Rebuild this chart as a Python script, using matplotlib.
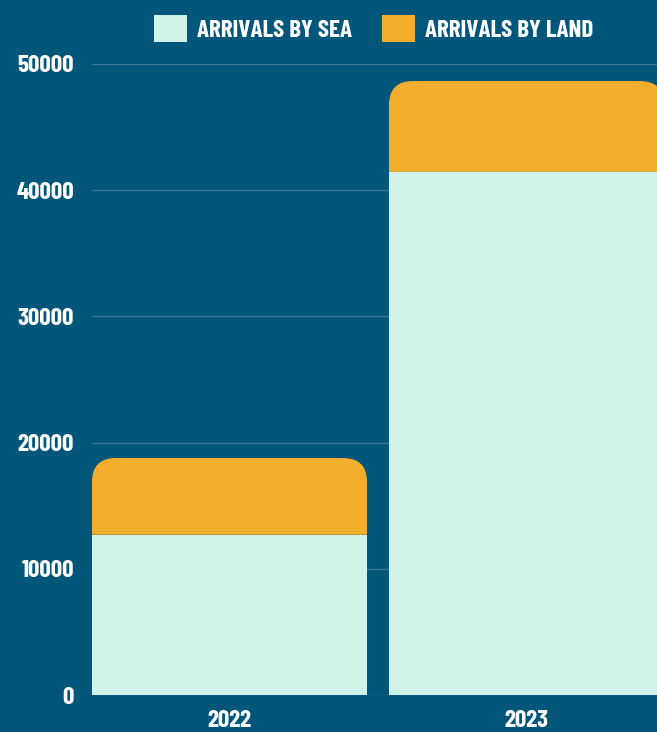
import matplotlib.pyplot as plt
import numpy as np
from matplotlib.patches import Patch, PathPatch
from matplotlib.path import Path

years = ["2022", "2023"]
sea = [12700, 41450]
land = [6080, 7200]
series_names = ["ARRIVALS BY SEA", "ARRIVALS BY LAND"]
y_ticks = [0, 10000, 20000, 30000, 40000, 50000]

BG = "#02567A"
SEA_COLOR = "#D0F3E9"
LAND_COLOR = "#F4AE2E"
GRID_COLOR = "#3B7896"

plt.rcParams["font.family"] = ["Barlow Condensed", "DejaVu Sans"]
plt.rcParams["font.weight"] = "bold"


def rounded_top(ax, patch, rx, ry, color):
    """Replace a bar patch with one that has rounded top corners."""
    x0 = patch.get_x()
    x1 = x0 + patch.get_width()
    y0 = patch.get_y()
    y1 = y0 + patch.get_height()
    verts = [
        (x0, y0), (x1, y0), (x1, y1 - ry),
        (x1, y1), (x1 - rx, y1),
        (x0 + rx, y1),
        (x0, y1), (x0, y1 - ry),
        (x0, y0),
    ]
    codes = [
        Path.MOVETO, Path.LINETO, Path.LINETO,
        Path.CURVE3, Path.CURVE3,
        Path.LINETO,
        Path.CURVE3, Path.CURVE3,
        Path.CLOSEPOLY,
    ]
    patch.remove()
    ax.add_patch(PathPatch(Path(verts, codes), facecolor=color,
                           edgecolor="none", zorder=3, clip_on=False))


fig = plt.figure(figsize=(6.57, 7.32), dpi=100, facecolor=BG)
ax = fig.add_axes([92 / 657, 37 / 732, 572 / 657, 631 / 732])
ax.set_facecolor(BG)

x = np.arange(len(years))
width = 275 / 297

ax.bar(x, sea, width, color=SEA_COLOR, zorder=3, clip_on=False)
land_bars = ax.bar(x, land, width, bottom=sea, color=LAND_COLOR,
                   zorder=3, clip_on=False)

ax.set_xlim(-width / 2, 1 + width / 2)
ax.set_ylim(0, 50000)

rx = 24 / 297
ry = 24 * 50000 / 631
for p in land_bars.patches:
    rounded_top(ax, p, rx, ry, LAND_COLOR)

ax.set_yticks(y_ticks)
ax.set_yticklabels([str(v) for v in y_ticks])
ax.set_xticks(x)
ax.set_xticklabels(years)
ax.yaxis.grid(True, color=GRID_COLOR, linewidth=1.0, zorder=0)
ax.set_axisbelow(True)
ax.tick_params(axis="y", length=0, pad=13, labelsize=18, colors="white")
ax.tick_params(axis="x", length=0, pad=11, labelsize=18, colors="white")
for spine in ax.spines.values():
    spine.set_visible(False)

handles = [Patch(facecolor=SEA_COLOR), Patch(facecolor=LAND_COLOR)]
fig.legend(
    handles,
    series_names,
    loc="center",
    bbox_to_anchor=(373.5 / 657, 1 - 28.5 / 732),
    ncol=2,
    frameon=False,
    fontsize=18,
    labelcolor="white",
    handlelength=1.32,
    handleheight=1.32,
    handletextpad=0.4,
    columnspacing=1.2,
)

fig.savefig("out.png", dpi=100, facecolor=BG)
